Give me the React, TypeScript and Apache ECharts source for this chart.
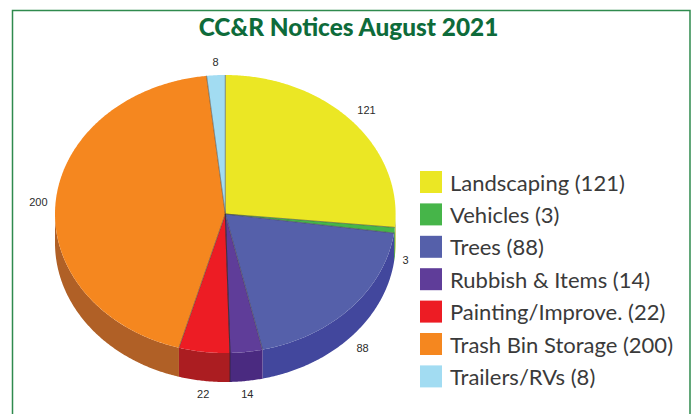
import React, { useEffect, useRef } from "react";
import * as echarts from "echarts";

const categories = ["Landscaping", "Vehicles", "Trees", "Rubbish & Items", "Painting/Improve.", "Trash Bin Storage", "Trailers/RVs"];
const values = [121, 3, 88, 14, 22, 200, 8];
const topColors = ["#ebe724", "#46b549", "#5560aa", "#5f3d99", "#ed1c24", "#f5871f", "#a2dcf2"];
const sideColors = ["#b3b01c", "#36913a", "#42479d", "#4a2a80", "#ab1d21", "#b06026", "#7fb0c2"];

const CX = 225.3, CY = 214, RX = 170.3, RY = 139, DEPTH = 29, LABEL_GAP = 8;
const DARK_EDGE_SLICE = 4;
const total = values.reduce((a, b) => a + b, 0);
const pt = (deg: number, dy = 0, extra = 0): number[] => {
  const r = (deg * Math.PI) / 180;
  return [CX + (RX + extra) * Math.sin(r), CY + dy - (RY + extra) * Math.cos(r)];
};
const arc = (a: number, b: number, dy = 0): number[][] => {
  const out: number[][] = [];
  const n = Math.max(2, Math.ceil(Math.abs(b - a) * 2));
  for (let i = 0; i <= n; i++) out.push(pt(a + ((b - a) * i) / n, dy));
  return out;
};

function sliceSeries(index: number) {
  const before = values.slice(0, index).reduce((a, b) => a + b, 0);
  const a0 = (before / total) * 360;
  const a1 = ((before + values[index]) / total) * 360;
  return {
    type: "custom",
    name: `${categories[index]} (${values[index]})`,
    coordinateSystem: "none",
    silent: true,
    itemStyle: { color: topColors[index] },
    data: [values[index]],
    renderItem: () => {
      const children: any[] = [];
      const s0 = Math.max(a0, 90), s1 = Math.min(a1, 270);
      if (s1 > s0) {
        children.push({
          type: "polygon", z2: 1,
          shape: { points: [...arc(s0, s1), ...arc(s1, s0, DEPTH)] },
          style: { fill: sideColors[index] },
        });
      }
      children.push({
        type: "polygon", z2: 5,
        shape: { points: [[CX, CY], ...arc(a0, a1)] },
        style: { fill: topColors[index] },
      });
      children.push({
        type: "polyline", z2: 6,
        shape: { points: [pt(a0), [CX, CY], pt(a1)] },
        style: { fill: "none", stroke: "rgba(70,70,70,0.45)", lineWidth: 0.7 },
      });
      if (index === DARK_EDGE_SLICE) {
        children.push({
          type: "polyline", z2: 6,
          shape: { points: [[CX, CY], pt(a0), pt(a0, DEPTH)] },
          style: { fill: "none", stroke: "rgba(45,35,50,0.8)", lineWidth: 0.9 },
        });
      }
      const mid = (a0 + a1) / 2, r = (mid * Math.PI) / 180;
      const sin = Math.sin(r), cos = Math.cos(r);
      const lp = pt(mid, cos < 0 ? DEPTH : 0, LABEL_GAP);
      children.push({
        type: "text", z2: 7,
        style: {
          text: String(values[index]), x: lp[0], y: lp[1],
          align: sin > 0.3 ? "left" : sin < -0.3 ? "right" : "center",
          verticalAlign: cos > 0.3 ? "bottom" : cos < -0.3 ? "top" : "middle",
          fill: "#2b2b2b", fontFamily: "Liberation Sans", fontSize: 11,
        },
      });
      return { type: "group", children };
    },
  };
}

export default function App() {
  const ref = useRef<HTMLDivElement>(null);
  useEffect(() => {
    document.body.style.margin = "0";
    const chart = echarts.init(ref.current!, undefined, { renderer: "svg" });
    chart.setOption({
      animation: false,
      backgroundColor: "#ffffff",
      title: {
        text: "CC&R Notices August 2021", left: 343.5, top: 9, textAlign: "center",
        textStyle: { fontFamily: "Lato", fontWeight: 900, fontSize: 24.4, color: "#0e6b3a" },
      },
      legend: {
        orient: "vertical", left: 420, top: 171, padding: 0, icon: "rect",
        itemWidth: 22, itemHeight: 22, itemGap: 10.4, selectedMode: false,
        textStyle: { fontFamily: "Lato", fontSize: 22, color: "#3a3a3a", padding: [0, 0, 0, 3] },
        data: categories.map((c, i) => `${c} (${values[i]})`),
      },
      graphic: [
        { type: "rect", silent: true, shape: { x: 12.5, y: 10.5, width: 677.5, height: 440 },
          style: { fill: "none", stroke: "#2f8a4e", lineWidth: 1.5 } },
      ],
      series: values.map((_, i) => sliceSeries(i)),
    });
    return () => chart.dispose();
  }, []);
  return <div ref={ref} style={{ width: 696, height: 414 }} />;
}
